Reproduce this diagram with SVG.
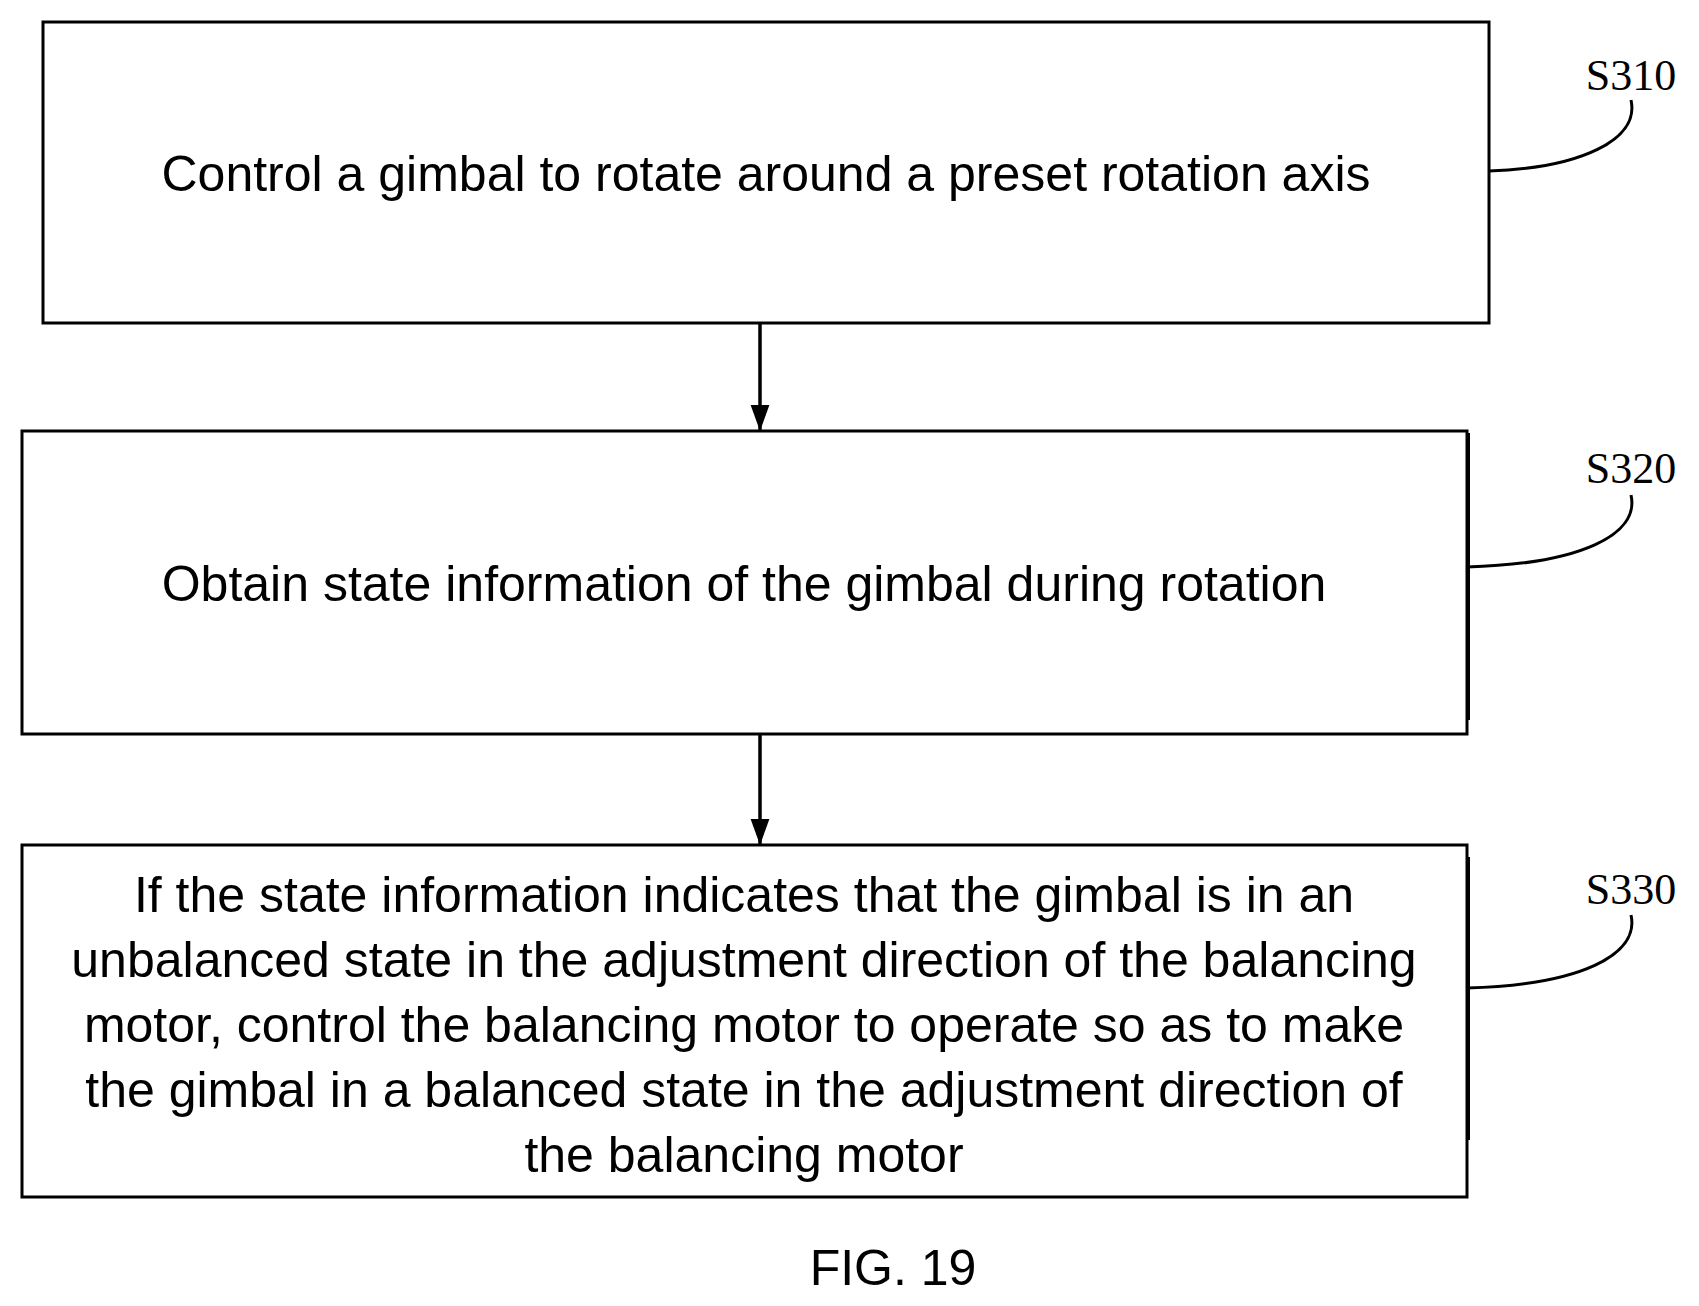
<svg xmlns="http://www.w3.org/2000/svg" width="1699" height="1306" viewBox="0 0 1699 1306">
<style>
.b{fill:#fff;stroke:#000;stroke-width:3}
.t{font-family:"Liberation Sans",Arial,sans-serif;font-size:50px;text-anchor:middle;fill:#000}
.s{font-family:"Liberation Serif","Times New Roman",serif;font-size:44px;text-anchor:middle;fill:#000}
.c{fill:none;stroke:#000;stroke-width:3}
</style>
<defs><marker id="a" markerWidth="26" markerHeight="36" refX="36" refY="13" orient="auto" markerUnits="userSpaceOnUse" viewBox="0 0 36 26"><path d="M0,0L36,13L0,26z"/></marker></defs>
<rect width="1699" height="1306" fill="#fff"/>
<g id="s310"><rect class="b" x="43" y="22" width="1446" height="301"/><text class="t" x="766" y="191">Control a gimbal to rotate around a preset rotation axis</text>
<text class="s" x="1631" y="90">S310</text><path class="c" d="M1489,171 C1580,168 1640,140 1631,100"/></g>
<g id="s320"><rect class="b" x="22" y="431" width="1445" height="303"/><line x1="1468" y1="433" x2="1468" y2="720" stroke="#000" stroke-width="4"/><text class="t" x="744" y="601">Obtain state information of the gimbal during rotation</text>
<text class="s" x="1631" y="483">S320</text><path class="c" d="M1467,567 C1580,564 1640,535 1631,495"/></g>
<g id="s330"><rect class="b" x="22" y="845" width="1445" height="352"/><line x1="1468" y1="857" x2="1468" y2="1140" stroke="#000" stroke-width="4"/>
<text class="t" x="744" y="912">If the state information indicates that the gimbal is in an</text>
<text class="t" x="744" y="977">unbalanced state in the adjustment direction of the balancing</text>
<text class="t" x="744" y="1042">motor, control the balancing motor to operate so as to make</text>
<text class="t" x="744" y="1107">the gimbal in a balanced state in the adjustment direction of</text>
<text class="t" x="744" y="1172">the balancing motor</text>
<text class="s" x="1631" y="904">S330</text><path class="c" d="M1467,988 C1580,985 1640,955 1631,915"/></g>
<g id="connectors">
<line x1="760" y1="323" x2="760" y2="431" stroke="#000" stroke-width="3.5" marker-end="url(#a)"/>
<line x1="760" y1="734" x2="760" y2="845" stroke="#000" stroke-width="3.5" marker-end="url(#a)"/>
</g>
<text class="t" x="893" y="1285">FIG. 19</text>
</svg>
